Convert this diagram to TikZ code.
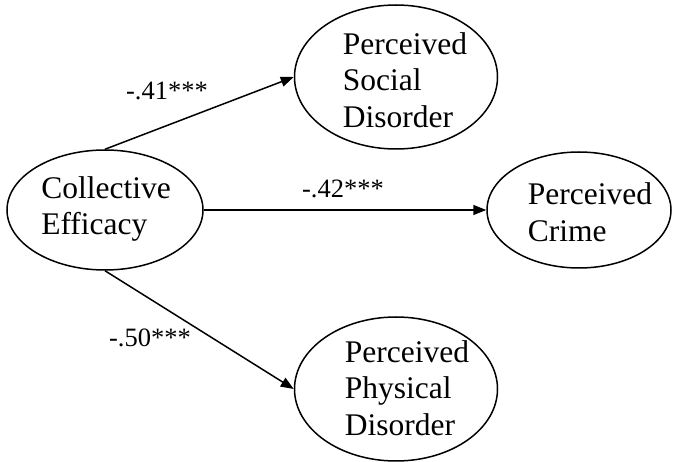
\documentclass[tikz,border=0pt]{standalone}
\usepackage{fontspec}
\setmainfont{Liberation Serif}
\usetikzlibrary{shapes.geometric,arrows.meta}
\begin{document}
\begin{tikzpicture}[x=1pt,y=-1pt,
  construct/.style={draw, ellipse, line width=1.5pt, inner sep=0pt},
  caption/.style={align=left, font=\fontsize{31.5}{36.5}\selectfont, inner sep=0pt},
  coef/.style={font=\fontsize{26.5}{30}\selectfont, inner sep=0pt},
  path/.style={line width=1.5pt, -{Triangle[length=13pt,width=10pt]}}]
\useasboundingbox (0,0) rectangle (673,462);

% latent constructs
\node[construct, minimum width=196pt, minimum height=120pt] (ce)   at (105,210) {};
\node[construct, minimum width=203pt, minimum height=144pt] (soc)  at (396,77)  {};
\node[construct, minimum width=184pt, minimum height=116pt] (crm)  at (579,210) {};
\node[construct, minimum width=203pt, minimum height=144pt] (phys) at (396,389) {};

% construct names
\node[caption] (tce)   at (106,209) {Collective\\Efficacy};
\node[caption] (tsoc)  at (405,80)  {Perceived\\Social\\Disorder};
\node[caption] (tcrm)  at (590,212) {Perceived\\Crime};
\node[caption] (tphys) at (407,388) {Perceived\\Physical\\Disorder};

% structural paths
\draw[path] (ce.north) -- (soc.west);
\draw[path] (ce.east)  -- (crm.west);
\draw[path] (ce.south) -- (phys.west);

% path coefficients
\node[coef] (c1) at (167,91)  {-.41***};
\node[coef] (c2) at (343,189) {-.42***};
\node[coef] (c3) at (150,338) {-.50***};
\end{tikzpicture}
\end{document}
